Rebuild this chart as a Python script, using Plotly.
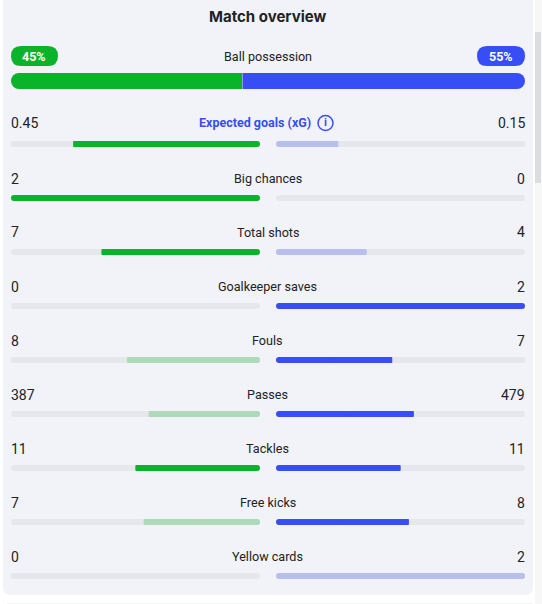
import plotly.graph_objects as go

# ---- data ----
stat_names = ["Expected goals (xG)", "Big chances", "Total shots", "Goalkeeper saves", "Fouls",
              "Passes", "Tackles", "Free kicks", "Yellow cards"]
home_values = [0.45, 2, 7, 0, 8, 387, 11, 7, 0]
away_values = [0.15, 0, 4, 2, 7, 479, 11, 8, 2]
home_muted = ["Fouls", "Passes", "Free kicks"]
away_muted = ["Expected goals (xG)", "Total shots", "Yellow cards"]
possession_label = "Ball possession"
home_possession = 45
away_possession = 55
title = "Match overview"

# ---- styles / layout ----
W, H = 542, 604
GREEN, GREEN_L = "#0bb32a", "#aed9b8"
BLUE, BLUE_L = "#374df5", "#b8bfeb"
TRACK, CARD, INK = "#e6e7eb", "#f2f3f8", "#222226"
FONT = "Roboto"
L0, L1, R0, R1 = 11, 260, 276, 525
ROW0, ROW_STEP, BAR_H = 144, 54, 6
px = lambda x: x / W
py = lambda y: 1 - y / H


def rrect(x0, y0, x1, y1, r):
    a, b, c, d = px(x0), py(y0), px(x1), py(y1)
    rx, ry = r / W, r / H
    return (f"M{a+rx},{b} L{c-rx},{b} Q{c},{b} {c},{b-ry} L{c},{d+ry} Q{c},{d} {c-rx},{d} "
            f"L{a+rx},{d} Q{a},{d} {a},{d+ry} L{a},{b-ry} Q{a},{b} {a+rx},{b} Z")


shapes = [
    dict(type="path", path=rrect(3, -12, 533, 595, 8), xref="paper", yref="paper", fillcolor=CARD, line_width=0, layer="below"),
    dict(type="rect", x0=px(535), x1=px(542), y0=py(0), y1=py(604), xref="paper", yref="paper", fillcolor="#f7f7f8", line_width=0, layer="below"),
    dict(type="rect", x0=px(535), x1=px(541), y0=py(32), y1=py(183), xref="paper", yref="paper", fillcolor="#dcdde0", line_width=0, layer="below"),
    dict(type="rect", x0=px(7), x1=px(533), y0=py(603), y1=py(604), xref="paper", yref="paper", fillcolor="#f2f3f6", line_width=0, layer="below"),
    dict(type="path", path=rrect(11, 46, 58, 66, 10), xref="paper", yref="paper", fillcolor=GREEN, line_width=0),
    dict(type="path", path=rrect(477, 46, 525, 66, 10), xref="paper", yref="paper", fillcolor=BLUE, line_width=0),
    dict(type="circle", x0=px(318), x1=px(333), y0=py(130.5), y1=py(115.5), xref="paper", yref="paper", fillcolor="rgba(0,0,0,0)", line=dict(color=BLUE, width=1.5)),
]

totals = [h + a for h, a in zip(home_values, away_values)]
home_share = [h / t for h, t in zip(home_values, totals)]
away_share = [a / t for a, t in zip(away_values, totals)]
home_colors = [GREEN_L if n in home_muted else GREEN for n in stat_names]
away_colors = [BLUE_L if n in away_muted else BLUE for n in stat_names]

fig = go.Figure()


def hbar(names, size, color, xaxis, yaxis="y", radius=3, base=None):
    fig.add_trace(go.Bar(y=names, x=size, base=base, orientation="h",
                         width=BAR_H / ROW_STEP if yaxis == "y" else 1,
                         marker=dict(color=color, line_width=0, cornerradius=radius),
                         xaxis=xaxis, yaxis=yaxis, hoverinfo="skip", showlegend=False))


# grey tracks: an explicit base rounds both ends
ones = [1] * len(stat_names)
zeros = [0] * len(stat_names)
hbar(stat_names, ones, TRACK, "x", base=zeros)
hbar(stat_names, ones, TRACK, "x2", base=zeros)

# fills: rounded bar from the centre, then a square bar over the outer half
# (a fill that takes the whole track stays rounded at both ends)
for share, colors, ax in ((home_share, home_colors, "x"), (away_share, away_colors, "x2")):
    hbar(stat_names, share, colors, ax, base=zeros)
    hbar(stat_names, [s / 2 if s < 1 else 0 for s in share], colors, ax, radius=0, base=[s / 2 for s in share])

# possession: one axis per team, so that only the outer end of each bar is rounded
hbar([possession_label], [home_possession], GREEN, "x3", "y2", 8)
hbar([possession_label], [away_possession], BLUE, "x4", "y2", 8)


def note(x, y, text, anchor="center", size=14, color=INK, weight=400, family=FONT):
    return dict(x=px(x), y=py(y), xref="paper", yref="paper", text=text, showarrow=False,
                xanchor=anchor, yanchor="middle", borderpad=0,
                font=dict(family=family, size=size, color=color, weight=weight))


anns = [
    note(267.5, 17, title, size=15, weight=700, family="Inter"),
    note(267.5, 57, possession_label, size=12.6),
    note(34, 56.5, f"{home_possession}%", size=12.5, color="white", weight=700),
    note(501, 56.5, f"{away_possession}%", size=12.5, color="white", weight=700),
    note(325.5, 123, "i", size=11, color=BLUE, weight=700),
]
for i, (n, h, a) in enumerate(zip(stat_names, home_values, away_values)):
    y = ROW0 + ROW_STEP * i - (21.5 if i == 0 else 19.5)
    anns.append(note(L0 - 1, y, str(h), anchor="left", size=14))
    anns.append(note(R1 + 0.5, y, str(a), anchor="right", size=14))
    if i == 0:
        anns.append(note(311.5, y, n, anchor="right", size=12.5, color=BLUE, weight=700))
    else:
        anns.append(note(267.5, y, n, size=12.6))

hidden = dict(visible=False, fixedrange=True)
split = 11 + (525 - 11) * home_possession / (home_possession + away_possession)
fig.update_layout(
    width=W, height=H, margin=dict(l=0, r=0, t=0, b=0), autosize=False,
    paper_bgcolor="white", plot_bgcolor="rgba(0,0,0,0)", barmode="overlay", showlegend=False,
    shapes=shapes, annotations=anns,
    xaxis=dict(hidden, domain=[px(L0), px(L1)], range=[1, 0]),
    xaxis2=dict(hidden, domain=[px(R0), px(R1)], range=[0, 1], anchor="y"),
    xaxis3=dict(hidden, domain=[px(11), px(split)], range=[home_possession, 0], anchor="y2"),
    xaxis4=dict(hidden, domain=[px(split), px(525)], range=[0, away_possession], anchor="y2"),
    yaxis=dict(hidden, domain=[0, 1], type="category", categoryorder="array", categoryarray=stat_names,
               range=[(H - ROW0) / ROW_STEP, -ROW0 / ROW_STEP], anchor="x"),
    yaxis2=dict(hidden, domain=[py(89), py(73)], type="category", range=[-0.5, 0.5], anchor="x3"),
)
css = ".bars path{shape-rendering:geometricPrecision !important;}"
fig.write_html("out.html", config=dict(displayModeBar=False),
               post_script=("document.body.style.margin='0';document.body.style.overflow='hidden';"
                            "var s=document.createElement('style');s.textContent='" + css + "';document.head.appendChild(s);"))
